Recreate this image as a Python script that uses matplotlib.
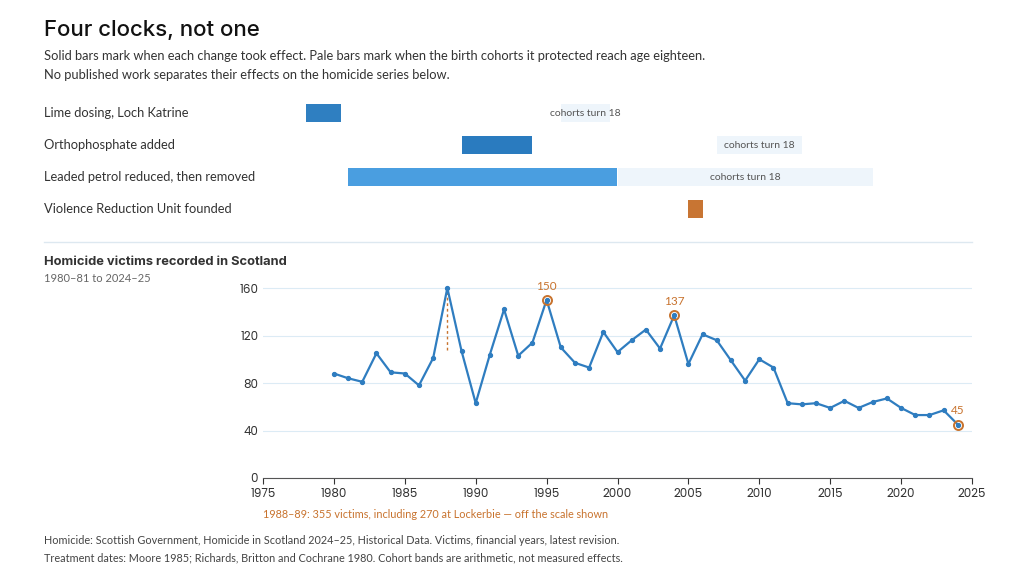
import matplotlib
matplotlib.use("Agg")
import matplotlib.pyplot as plt

years = list(range(1980, 2025))
victims = [88, 84, 81, 105, 89, 88, 78, 101, 160, 107, 63, 104, 142, 103, 114, 150, 110, 97, 93, 123,
           106, 116, 125, 109, 137, 96, 121, 116, 99, 82, 100, 93, 63, 62, 63, 59, 65, 59, 64, 67,
           59, 53, 53, 57, 45]
highlights = [1995, 2004, 2024]

treatments = ["Lime dosing, Loch Katrine", "Orthophosphate added",
              "Leaded petrol reduced, then removed", "Violence Reduction Unit founded"]
t_start = [1978.0, 1989.0, 1981.0, 2005.0]
t_end = [1980.5, 1994.0, 2000.0, 2006.0]
c_start = [1996.0, 2007.0, 2000.0, None]
c_end = [1999.5, 2013.0, 2018.0, None]
bar_colors = ["#2f7fc1", "#2a7bbf", "#4a9ee0", "#c87533"]

BLUE = "#2f7dc0"; ORANGE = "#c8732e"
plt.rcParams['font.family'] = ['Lato', 'DejaVu Sans']

W, H = 1024, 587
fig = plt.figure(figsize=(W/100, H/100), dpi=100)
fig.patch.set_facecolor("white")

def fx(px): return px / W
def fy(py): return 1 - py / H

fig.text(fx(44), fy(30), "Four clocks, not one", fontsize=16, fontweight='medium', family=['Inter', 'DejaVu Sans'], va='center', color="#111")
fig.text(fx(44), fy(56), "Solid bars mark when each change took effect. Pale bars mark when the birth cohorts it protected reach age eighteen.",
         fontsize=9.3, va='center', color="#333")
fig.text(fx(44), fy(75), "No published work separates their effects on the homicide series below.",
         fontsize=9.3, va='center', color="#333")

x0, x1 = 263, 972
gax = fig.add_axes([fx(x0), fy(225), fx(x1) - fx(x0), fy(97) - fy(225)])
gax.set_xlim(1975, 2025)
gax.set_ylim(3.5, -0.5)
gax.axis('off')
for i, name in enumerate(treatments):
    if c_start[i] is not None:
        gax.barh(i, c_end[i] - c_start[i], left=c_start[i], height=0.56, color="#eef5fb")
        gax.text((c_start[i] + c_end[i]) / 2, i, "cohorts turn 18", ha='center', va='center', fontsize=7.5, color="#555")
    gax.barh(i, t_end[i] - t_start[i], left=t_start[i], height=0.56, color=bar_colors[i])
    fig.text(fx(44), fy(113 + 32 * i), name, fontsize=9.3, va='center', color="#333")

fig.add_artist(plt.Line2D([fx(44), fx(972)], [fy(242), fy(242)], color="#dde8f0", lw=1))

fig.text(fx(44), fy(262), "Homicide victims recorded in Scotland", fontsize=9.3, fontweight='bold', va='center', color="#333",
         family=['Inter', 'DejaVu Sans'])
fig.text(fx(44), fy(279), "1980–81 to 2024–25", fontsize=8, va='center', color="#666")

ax = fig.add_axes([fx(x0), fy(478), fx(x1) - fx(x0), fy(288 - 1.1875 * 10) - fy(478)])
ax.set_xlim(1975, 2025)
ax.set_ylim(0, 170)
for s in ['top', 'right', 'left']:
    ax.spines[s].set_visible(False)
ax.spines['bottom'].set_color("#555")
ax.set_yticks([0, 40, 80, 120, 160])
ax.set_xticks(range(1975, 2026, 5))
ax.tick_params(axis='y', length=0, labelsize=8.5, colors="#333")
ax.tick_params(axis='x', length=4, labelsize=8.5, colors="#333")
for lab in ax.get_xticklabels() + ax.get_yticklabels():
    lab.set_family(['Poppins', 'Inter', 'DejaVu Sans'])
ax.grid(axis='y', color="#dcebf5", lw=0.8)
ax.set_axisbelow(True)
ax.plot(years, victims, color=BLUE, lw=1.6, marker='o', ms=2.8, zorder=3)
ax.plot([1988, 1988], [108, 160], color=ORANGE, lw=1, ls=(0, (2, 2)), zorder=2)
for yr in highlights:
    v = victims[years.index(yr)]
    ax.plot(yr, v, 'o', ms=6.5, mfc='none', mec=ORANGE, mew=1.4, zorder=4)
    ax.text(yr, v + 7, str(v), ha='center', va='bottom', fontsize=8.5, color=ORANGE)

fig.text(fx(263), fy(514), "1988–89: 355 victims, including 270 at Lockerbie — off the scale shown", fontsize=7.8, va='center', color=ORANGE)
fig.text(fx(44), fy(541), "Homicide: Scottish Government, Homicide in Scotland 2024–25, Historical Data. Victims, financial years, latest revision.",
         fontsize=7.8, va='center', color="#444")
fig.text(fx(44), fy(558), "Treatment dates: Moore 1985; Richards, Britton and Cochrane 1980. Cohort bands are arithmetic, not measured effects.",
         fontsize=7.8, va='center', color="#444")

fig.savefig("out.png", dpi=100)
